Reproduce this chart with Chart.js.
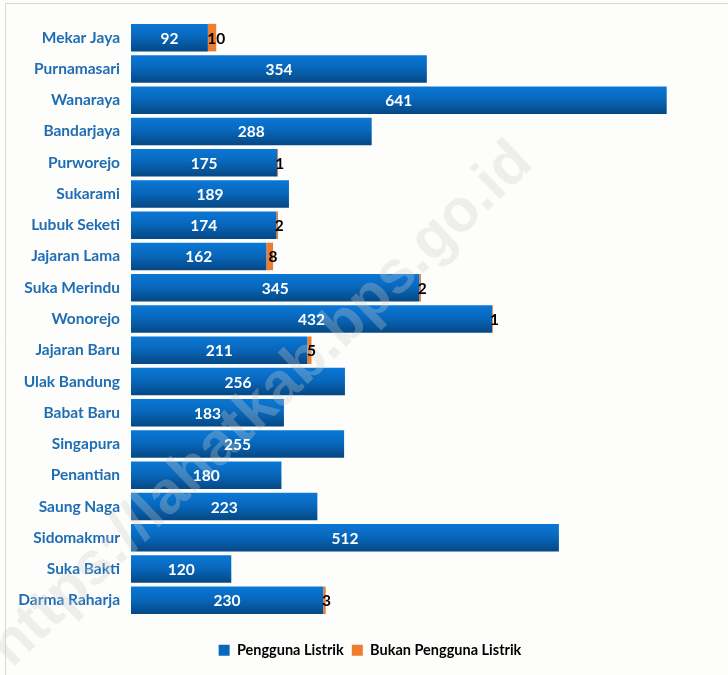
<!DOCTYPE html>
<html>
<head>
<meta charset="utf-8">
<script src="https://cdn.jsdelivr.net/npm/chart.js@4"></script>
<style>
  html, body { margin: 0; padding: 0; background: #fdfdfb; }
  #wrap { width: 728px; height: 675px; position: relative; }
</style>
</head>
<body>
<div id="wrap"><canvas id="grafik"></canvas></div>
<script>
const desa = ['Mekar Jaya', 'Purnamasari', 'Wanaraya', 'Bandarjaya', 'Purworejo', 'Sukarami',
    'Lubuk Seketi', 'Jajaran Lama', 'Suka Merindu', 'Wonorejo', 'Jajaran Baru', 'Ulak Bandung',
    'Babat Baru', 'Singapura', 'Penantian', 'Saung Naga', 'Sidomakmur', 'Suka Bakti', 'Darma Raharja']
const penggunaListrik = [92, 354, 641, 288, 175, 189, 174, 162, 345, 432, 211, 256, 183, 255, 180, 223, 512, 120, 230]
const bukanPengguna = [10, 0, 0, 0, 1, 0, 2, 8, 2, 1, 5, 0, 0, 0, 0, 0, 0, 0, 3]

const FONT = 'Lato, "Liberation Sans", sans-serif'

// degradé bleu pour chaque barre (clair en haut, foncé en bas)
function gradientBleu(context) {
    const chart = context.chart
    if (!chart.chartArea || context.dataIndex === undefined || !chart.scales.y) return '#0a6cc0'
    const y = chart.scales.y.getPixelForValue(context.dataIndex)
    const g = chart.ctx.createLinearGradient(0, y - 14, 0, y + 14)
    g.addColorStop(0, '#0a78d6')
    g.addColorStop(0.45, '#0868bd')
    g.addColorStop(1, '#054783')
    return g
}

// fond, bordure et filigrane
const fondPlugin = {
    id: 'fond',
    beforeInit(chart) {
        // réserve de la place sous les barres, légende décalée vers le bas
        const legend = chart.legend
        const fit = legend.fit
        legend.fit = function () {
            fit.call(this)
            this.height = 59
        }
        const draw = legend.draw
        legend.draw = function () {
            const ctx = this.ctx
            ctx.save()
            ctx.translate(12, 19)
            draw.call(this)
            ctx.restore()
        }
    },
    beforeDraw(chart) {
        const ctx = chart.ctx
        ctx.save()
        ctx.fillStyle = '#fdfdfb'
        ctx.fillRect(0, 0, chart.width, chart.height)
        ctx.strokeStyle = '#d9d9d9'
        ctx.lineWidth = 1
        ctx.beginPath()
        ctx.moveTo(5.5, chart.height)
        ctx.lineTo(5.5, 3.5)
        ctx.lineTo(chart.width, 3.5)
        ctx.stroke()
        ctx.restore()
    },
    afterDatasetsDraw(chart) {
        const ctx = chart.ctx
        ctx.save()
        ctx.translate(262, 405)
        ctx.rotate(-Math.PI / 4.1)
        ctx.font = 'bold 60px "Liberation Sans", sans-serif'
        ctx.fillStyle = 'rgba(205, 205, 205, 0.3)'
        ctx.textAlign = 'center'
        ctx.textBaseline = 'middle'
        ctx.fillText('https://lahatkab.bps.go.id', 0, 0)
        ctx.restore()
    }
}

// étiquettes de valeurs
const etiquettesPlugin = {
    id: 'etiquettes',
    afterDatasetsDraw(chart) {
        const ctx = chart.ctx
        ctx.save()
        ctx.font = 'bold 15.5px ' + FONT
        ctx.textAlign = 'center'
        ctx.textBaseline = 'middle'
        chart.data.datasets.forEach((ds, i) => {
            const meta = chart.getDatasetMeta(i)
            meta.data.forEach((bar, j) => {
                const v = ds.data[j]
                if (!v) return
                const x = (bar.x + bar.base) / 2
                ctx.fillStyle = i === 0 ? '#ffffff' : '#000000'
                ctx.fillText(v, i === 0 ? x : Math.max(bar.x, x + 2), bar.y + 1)
            })
        })
        ctx.restore()
    }
}

new Chart(document.getElementById('grafik'), {
    type: 'bar',
    data: {
        labels: desa,
        datasets: [
            {
                label: 'Pengguna Listrik',
                data: penggunaListrik,
                backgroundColor: gradientBleu,
                borderWidth: 0,
                barPercentage: 0.88,
                categoryPercentage: 1
            },
            {
                label: 'Bukan Pengguna Listrik',
                data: bukanPengguna,
                backgroundColor: '#ed7d31',
                borderWidth: 0,
                barPercentage: 0.88,
                categoryPercentage: 1
            }
        ]
    },
    options: {
        indexAxis: 'y',
        responsive: true,
        maintainAspectRatio: false,
        animation: false,
        layout: { padding: { top: 22, right: 12, bottom: 0, left: 0 } },
        scales: {
            x: {
                stacked: true,
                min: 0,
                max: 700,
                display: false
            },
            y: {
                stacked: true,
                grid: { display: false },
                border: { display: false },
                afterFit(scale) { scale.width = 131 },
                ticks: {
                    padding: 3,
                    color: '#1f6db4',
                    font: { family: FONT, size: 15.5, weight: 'bold' }
                }
            }
        },
        plugins: {
            legend: {
                position: 'bottom',
                labels: {
                    boxWidth: 11,
                    boxHeight: 11,
                    padding: 8,
                    color: '#111',
                    font: { family: FONT, size: 14.5, weight: 'bold' },
                    generateLabels(chart) {
                        return chart.data.datasets.map((ds, i) => ({
                            text: ds.label,
                            fillStyle: i === 0 ? '#0868bd' : '#ed7d31',
                            strokeStyle: 'transparent',
                            lineWidth: 0,
                            datasetIndex: i
                        }))
                    }
                }
            },
            tooltip: { enabled: false }
        }
    },
    plugins: [fondPlugin, etiquettesPlugin]
})
</script>
</body>
</html>
